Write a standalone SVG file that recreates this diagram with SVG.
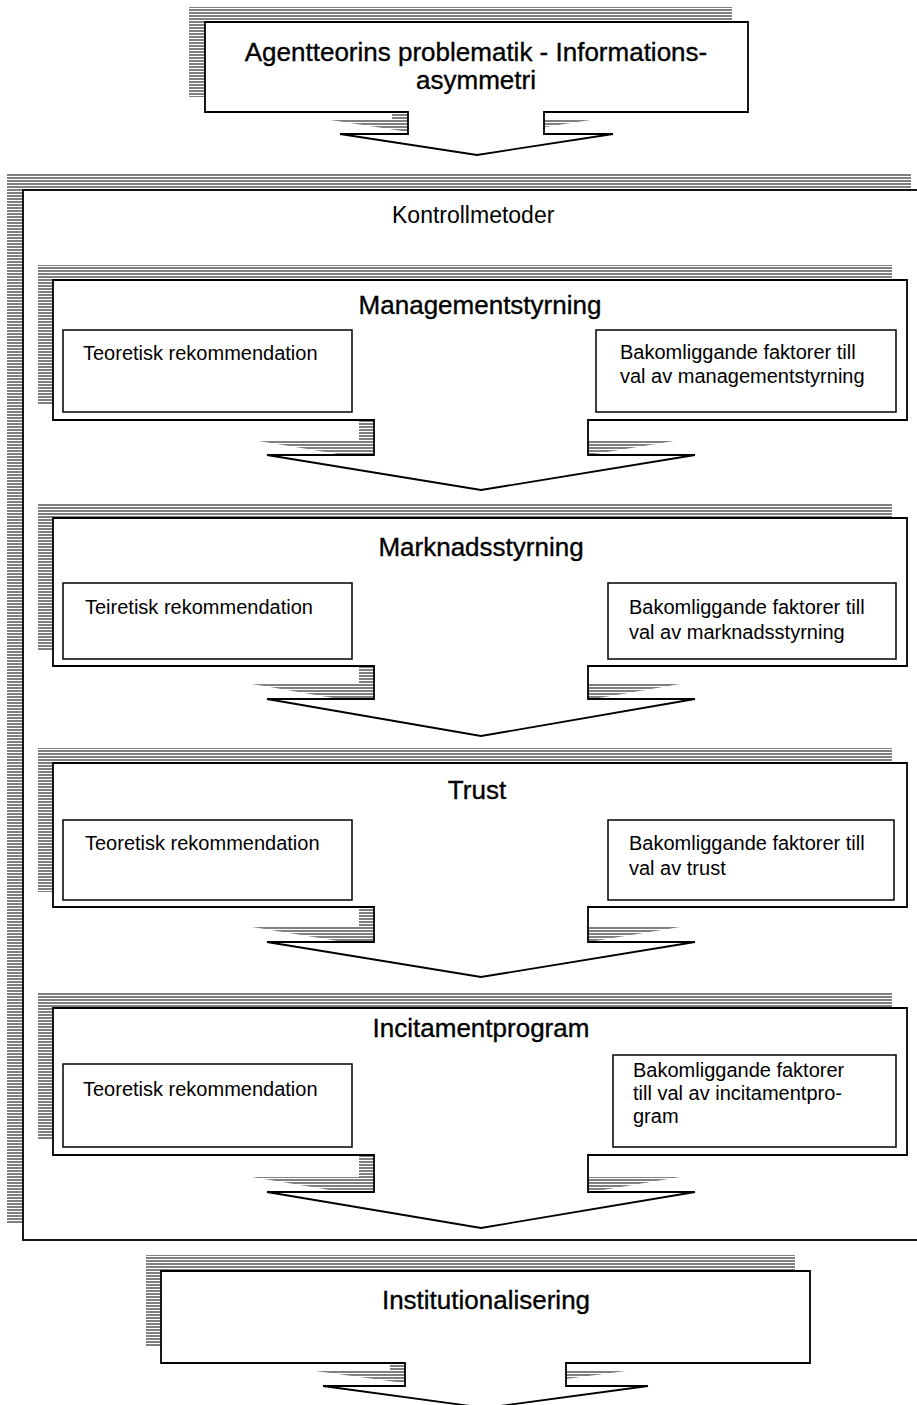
<svg xmlns="http://www.w3.org/2000/svg" width="917" height="1405" viewBox="0 0 917 1405">
<defs>
<pattern id="hatch" patternUnits="userSpaceOnUse" x="0" y="0" width="10" height="3">
<rect x="0" y="0" width="10" height="2" fill="#808080"/>
</pattern>
</defs>
<style>
.shadow{fill:url(#hatch);stroke:none}
.box{fill:#fff;stroke:#000;stroke-width:1.8;stroke-linecap:square;stroke-linejoin:miter}
.inner{fill:#fff;stroke:#000;stroke-width:1.5}
.title{font-family:"Liberation Sans",Arial,sans-serif;font-size:26px;fill:#000;stroke:#000;stroke-width:0.35;text-anchor:middle}
.small{font-family:"Liberation Sans",Arial,sans-serif;font-size:20px;fill:#000}
</style>
<rect width="917" height="1405" fill="#fff"/>

<g id="node-kontrollmetoder">
<rect class="shadow" x="7" y="174" width="904" height="1050"/>
<rect class="box" x="23" y="190" width="904" height="1050"/>
<text class="small" x="392" y="223" style="font-size:23px">Kontrollmetoder</text>
</g>

<g id="connectors">
<path class="shadow" d="M392,97 V119 H324 L461,140 L597,119 H528 V97 Z"/>
<path class="shadow" d="M359,405 V440 H252 L466,475 L680,440 H573 V405 Z"/>
<path class="shadow" d="M359,651 V684 H252 L466,721 L680,684 H573 V651 Z"/>
<path class="shadow" d="M359,892 V927 H252 L466,962 L680,927 H573 V892 Z"/>
<path class="shadow" d="M359,1140 V1177 H252 L466,1213 L680,1177 H573 V1140 Z"/>
<path class="shadow" d="M390,1347 V1370 H308 L470,1392 L633,1370 H551 V1347 Z"/>
<path class="box" d="M408,112 V134 H340 L477,155 L613,134 H544 V112"/>
<path class="box" d="M374,420 V455 H267 L481,490 L695,455 H588 V420"/>
<path class="box" d="M374,666 V699 H267 L481,736 L695,699 H588 V666"/>
<path class="box" d="M374,907 V942 H267 L481,977 L695,942 H588 V907"/>
<path class="box" d="M374,1155 V1192 H267 L481,1228 L695,1192 H588 V1155"/>
<path class="box" d="M405,1363 V1386 H323 L485,1408 L648,1386 H566 V1363"/>
</g>

<g id="node-agentteori">
<rect class="shadow" x="189" y="7" width="543" height="90"/>
<path class="box" d="M408,112 H205 V22 H748 V112 H544"/>
<text class="title" x="476" y="61">Agentteorins problematik - Informations-</text>
<text class="title" x="476" y="89">asymmetri</text>
</g>

<g id="node-managementstyrning">
<rect class="shadow" x="38" y="265" width="854" height="140"/>
<path class="box" d="M374,420 H53 V280 H907 V420 H588"/>
<text class="title" x="480" y="314">Managementstyrning</text>
<rect class="inner" x="63" y="330" width="289" height="82"/>
<text class="small" x="83" y="360">Teoretisk rekommendation</text>
<rect class="inner" x="596" y="330" width="300" height="82"/>
<text class="small" x="620" y="359">Bakomliggande faktorer till</text>
<text class="small" x="620" y="383">val av managementstyrning</text>
</g>

<g id="node-marknadsstyrning">
<rect class="shadow" x="38" y="503" width="854" height="148"/>
<path class="box" d="M374,666 H53 V518 H907 V666 H588"/>
<text class="title" x="481" y="556">Marknadsstyrning</text>
<rect class="inner" x="63" y="583" width="289" height="76"/>
<text class="small" x="85" y="614">Teiretisk rekommendation</text>
<rect class="inner" x="608" y="583" width="288" height="76"/>
<text class="small" x="629" y="614">Bakomliggande faktorer till</text>
<text class="small" x="629" y="639">val av marknadsstyrning</text>
</g>

<g id="node-trust">
<rect class="shadow" x="38" y="748" width="854" height="144"/>
<path class="box" d="M374,907 H53 V763 H907 V907 H588"/>
<text class="title" x="477" y="799">Trust</text>
<rect class="inner" x="63" y="820" width="289" height="80"/>
<text class="small" x="85" y="850">Teoretisk rekommendation</text>
<rect class="inner" x="608" y="820" width="286" height="80"/>
<text class="small" x="629" y="850">Bakomliggande faktorer till</text>
<text class="small" x="629" y="875">val av trust</text>
</g>

<g id="node-incitamentprogram">
<rect class="shadow" x="38" y="993" width="854" height="147"/>
<path class="box" d="M374,1155 H53 V1008 H907 V1155 H588"/>
<text class="title" x="481" y="1037">Incitamentprogram</text>
<rect class="inner" x="63" y="1064" width="289" height="83"/>
<text class="small" x="83" y="1096">Teoretisk rekommendation</text>
<rect class="inner" x="613" y="1055" width="283" height="92"/>
<text class="small" x="633" y="1077">Bakomliggande faktorer</text>
<text class="small" x="633" y="1100">till val av incitamentpro-</text>
<text class="small" x="633" y="1123">gram</text>
</g>

<g id="node-institutionalisering">
<rect class="shadow" x="146" y="1255" width="649" height="92"/>
<path class="box" d="M405,1363 H161 V1271 H810 V1363 H566"/>
<text class="title" x="486" y="1309">Institutionalisering</text>
</g>
</svg>
